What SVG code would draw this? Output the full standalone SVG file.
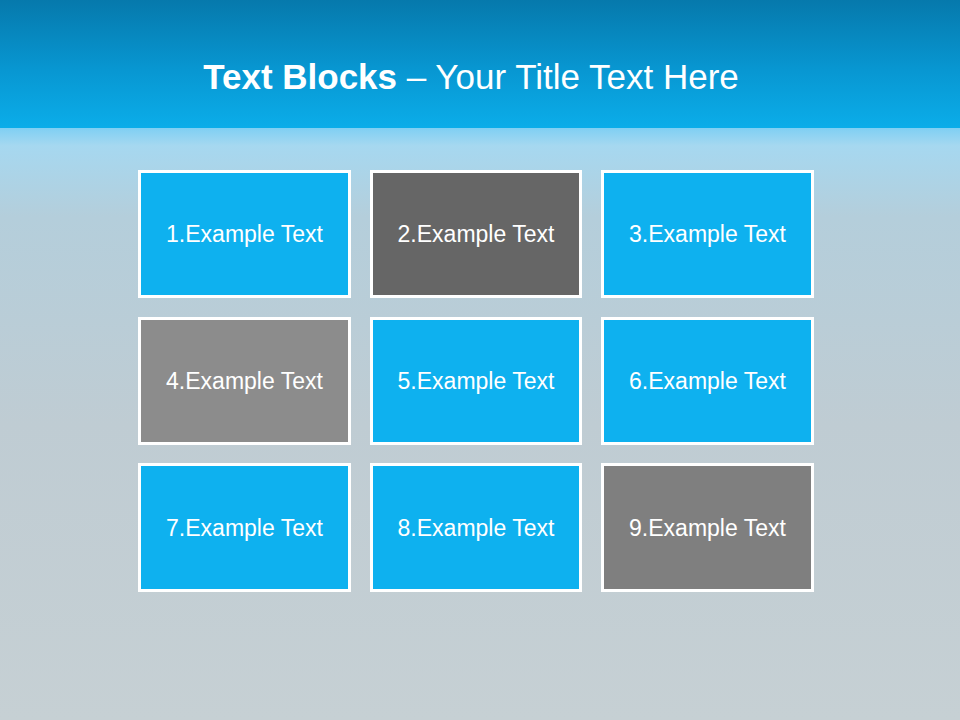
<svg xmlns="http://www.w3.org/2000/svg" width="960" height="720" viewBox="0 0 960 720">
  <defs>
    <linearGradient id="hdr" x1="0" y1="0" x2="0" y2="1">
      <stop offset="0" stop-color="#0679AC"/>
      <stop offset="0.55" stop-color="#0897D2"/>
      <stop offset="1" stop-color="#0BADE9"/>
    </linearGradient>
    <linearGradient id="body" gradientUnits="userSpaceOnUse" x1="0" y1="128" x2="0" y2="720">
      <stop offset="0" stop-color="#7FCFF3"/>
      <stop offset="0.03" stop-color="#A6D8F0"/>
      <stop offset="0.15" stop-color="#B4CEDB"/>
      <stop offset="0.5" stop-color="#BFCCD3"/>
      <stop offset="1" stop-color="#C6D0D4"/>
    </linearGradient>
    <style>
      .box { stroke: #FFFFFF; stroke-width: 3; }
      .blue { fill: #0EB1EF; }
      .g1 { fill: #666666; }
      .g2 { fill: #8C8C8C; }
      .g3 { fill: #7F7F7F; }
      .lbl { font-family: "Liberation Sans", Arial, sans-serif; font-size: 23px; fill: #FFFFFF; text-anchor: middle; }
      .title { font-family: "Liberation Sans", Arial, sans-serif; font-size: 35px; fill: #FFFFFF; }
    </style>
  </defs>
  <rect x="0" y="0" width="960" height="720" fill="url(#body)"/>
  <rect x="0" y="0" width="960" height="128" fill="url(#hdr)"/>
  <text class="title" x="471" y="89" text-anchor="middle"><tspan font-weight="bold">Text Blocks</tspan> – Your Title Text Here</text>

  <g id="node1"><rect class="box blue" x="139.5" y="171.5" width="210" height="125"/><text class="lbl" x="244.5" y="242">1.Example Text</text></g>
  <g id="node2"><rect class="box g1" x="371.5" y="171.5" width="209" height="125"/><text class="lbl" x="476" y="242">2.Example Text</text></g>
  <g id="node3"><rect class="box blue" x="602.5" y="171.5" width="210" height="125"/><text class="lbl" x="707.5" y="242">3.Example Text</text></g>

  <g id="node4"><rect class="box g2" x="139.5" y="318.5" width="210" height="125"/><text class="lbl" x="244.5" y="389">4.Example Text</text></g>
  <g id="node5"><rect class="box blue" x="371.5" y="318.5" width="209" height="125"/><text class="lbl" x="476" y="389">5.Example Text</text></g>
  <g id="node6"><rect class="box blue" x="602.5" y="318.5" width="210" height="125"/><text class="lbl" x="707.5" y="389">6.Example Text</text></g>

  <g id="node7"><rect class="box blue" x="139.5" y="464.5" width="210" height="126"/><text class="lbl" x="244.5" y="536">7.Example Text</text></g>
  <g id="node8"><rect class="box blue" x="371.5" y="464.5" width="209" height="126"/><text class="lbl" x="476" y="536">8.Example Text</text></g>
  <g id="node9"><rect class="box g3" x="602.5" y="464.5" width="210" height="126"/><text class="lbl" x="707.5" y="536">9.Example Text</text></g>

  <g id="connectors"/>
</svg>
